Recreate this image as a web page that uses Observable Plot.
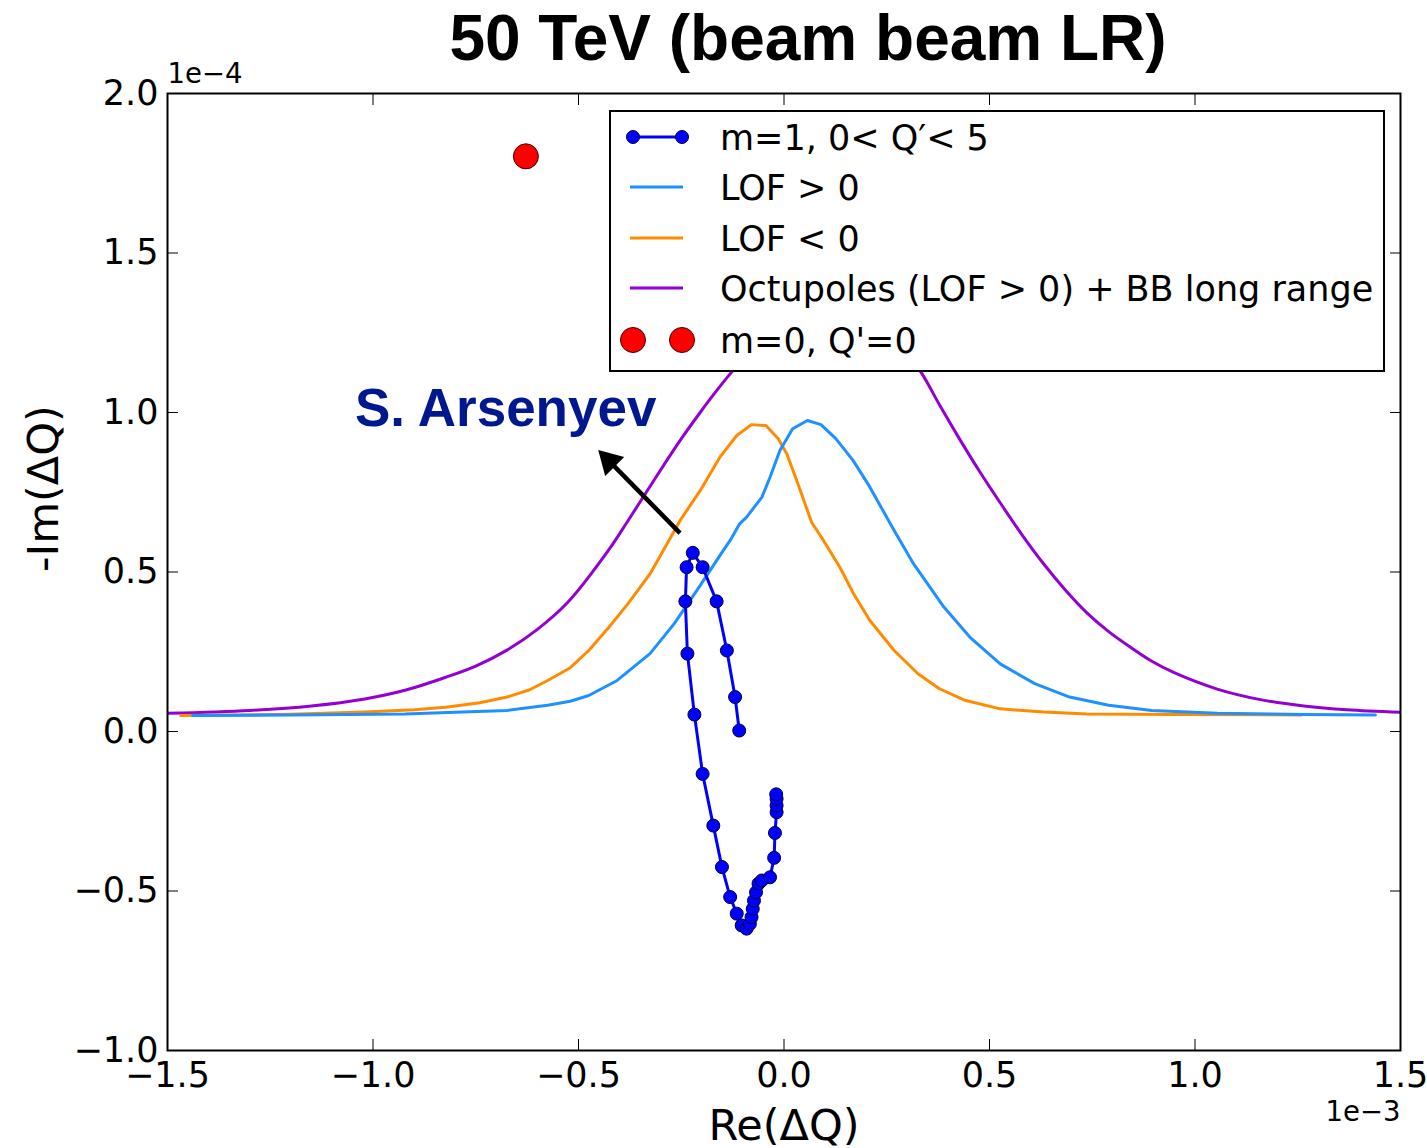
<!DOCTYPE html>
<html><head><meta charset="utf-8">
<script src="https://cdn.jsdelivr.net/npm/d3@7"></script>
<script src="https://cdn.jsdelivr.net/npm/@observablehq/plot@0.6"></script>
<style>
body{margin:0;background:#fff;}
#wrap{position:relative;width:1427px;height:1148px;overflow:hidden;background:#fff;}
#legend{position:absolute;left:609px;top:110px;width:776px;height:262px;box-sizing:border-box;border:2px solid #000;background:#fff;}
#legend svg{display:block;}
</style></head><body><div id="wrap"></div>
<script>
// Axis units: x in 1e-3, y in 1e-4
const titleText = "50 TeV (beam beam LR)";
const xTicks = [-1.5, -1.0, -0.5, 0.0, 0.5, 1.0, 1.5];
const yTicks = [-1.0, -0.5, 0.0, 0.5, 1.0, 1.5, 2.0];

// Octupoles (LOF > 0) + BB long range
const octX = [-1.5,-1.3,-1.15,-1.02,-0.92,-0.823,-0.75,-0.674,-0.6,-0.526,-0.426,-0.38,-0.33,-0.28,-0.253,-0.204,-0.172,-0.131,-0.09,-0.04,0.02,0.08,0.14,0.2,0.25,0.295,0.336,0.38,0.428,0.476,0.526,0.58,0.632,0.685,0.737,0.79,0.843,0.895,0.948,1.054,1.159,1.265,1.37,1.5];
const octY = [0.057,0.066,0.08,0.102,0.13,0.17,0.205,0.255,0.32,0.405,0.57,0.66,0.76,0.86,0.912,1.0,1.055,1.121,1.18,1.24,1.285,1.31,1.315,1.295,1.255,1.195,1.121,1.02,0.915,0.815,0.717,0.615,0.525,0.443,0.372,0.313,0.264,0.22,0.185,0.133,0.10,0.08,0.068,0.060];

// LOF < 0
const lofNegX = [-1.468,-1.2,-1.022,-0.9,-0.823,-0.74,-0.674,-0.62,-0.575,-0.52,-0.475,-0.426,-0.38,-0.326,-0.253,-0.204,-0.156,-0.115,-0.079,-0.044,-0.014,0.007,0.031,0.067,0.096,0.136,0.17,0.209,0.268,0.326,0.378,0.442,0.526,0.632,0.737,0.948,1.259];
const lofNegY = [0.050,0.054,0.061,0.068,0.076,0.09,0.108,0.13,0.160,0.2,0.254,0.327,0.40,0.494,0.661,0.755,0.860,0.928,0.962,0.959,0.918,0.870,0.787,0.656,0.599,0.515,0.43,0.348,0.254,0.181,0.134,0.097,0.071,0.061,0.055,0.053,0.052];

// LOF > 0
const lofPosX = [-1.439,-1.2,-0.922,-0.8,-0.674,-0.575,-0.52,-0.475,-0.406,-0.326,-0.267,-0.207,-0.148,-0.131,-0.108,-0.091,-0.054,-0.034,-0.010,0.021,0.057,0.090,0.126,0.168,0.209,0.268,0.315,0.389,0.452,0.526,0.610,0.695,0.790,0.895,1.054,1.265,1.439];
const lofPosY = [0.050,0.052,0.055,0.06,0.066,0.082,0.095,0.113,0.160,0.244,0.338,0.452,0.567,0.599,0.651,0.672,0.734,0.797,0.881,0.949,0.975,0.962,0.918,0.850,0.766,0.63,0.526,0.390,0.296,0.212,0.150,0.108,0.082,0.066,0.057,0.053,0.052];

// m=1, 0 < Q' < 5
const m1X = [-0.109,-0.119,-0.139,-0.164,-0.198,-0.222,-0.237,-0.240,-0.235,-0.218,-0.198,-0.172,-0.151,-0.131,-0.115,-0.103,-0.091,-0.083,-0.079,-0.076,-0.073,-0.068,-0.062,-0.054,-0.034,-0.024,-0.022,-0.018,-0.018,-0.018,-0.019];
const m1Y = [0.003,0.108,0.254,0.408,0.515,0.560,0.515,0.408,0.244,0.053,-0.133,-0.295,-0.425,-0.519,-0.571,-0.608,-0.618,-0.603,-0.582,-0.556,-0.530,-0.504,-0.477,-0.467,-0.457,-0.396,-0.318,-0.253,-0.232,-0.211,-0.197];

// m=0, Q'=0
const m0X = [-0.628];
const m0Y = [1.803];

// annotation
const annotText = ["S. Arsenyev"];
const annotX = [-1.044];
const annotY = [1.010];
const arrowFrom = [-0.253, 0.622];
const arrowTo = [-0.452, 0.883];

const legendLabels = ["m=1, 0< Q\u2032< 5", "LOF > 0", "LOF < 0", "Octupoles (LOF > 0) + BB long range", "m=0, Q'=0"];
const colors = {oct: "#9400d3", neg: "#ff8c00", pos: "#1e90ff", m1: "#0000ff", m0: "#ff0000"};

const zip = (xs, ys) => xs.map((x, i) => ({x, y: ys[i]}));
const oct = zip(octX, octY), neg = zip(lofNegX, lofNegY), pos = zip(lofPosX, lofPosY);
const m1 = zip(m1X, m1Y), m0 = zip(m0X, m0Y);
const annot = annotText.map((t, i) => ({t, x: annotX[i], y: annotY[i]}));
// arrow: shaft + filled triangular head, positioned along the arrow segment
const lerp = (f) => ({x: arrowTo[0] + f * (arrowFrom[0] - arrowTo[0]), y: arrowTo[1] + f * (arrowFrom[1] - arrowTo[1])});
const shaftEnd = lerp(0.15);
const shaft = [{x1: arrowFrom[0], y1: arrowFrom[1], x2: shaftEnd.x, y2: shaftEnd.y}];
const headPos = [lerp(0.134)];
const fmt = d3.format(".1f");
const FONT = "'DejaVu Sans', sans-serif";
const BOLD = "'Liberation Sans', Arial, Helvetica, sans-serif";

const chart = Plot.plot({
  width: 1427, height: 1148,
  marginLeft: 167, marginRight: 27, marginTop: 93, marginBottom: 98,
  x: {domain: [-1.5, 1.5]},
  y: {domain: [-1, 2]},
  style: {fontFamily: FONT, fontSize: "35px", background: "white", color: "black", overflow: "visible"},
  marks: [
    Plot.line(oct, {x: "x", y: "y", stroke: colors.oct, strokeWidth: 3, curve: "catmull-rom", clip: true}),
    Plot.line(neg, {x: "x", y: "y", stroke: colors.neg, strokeWidth: 3, clip: true}),
    Plot.line(pos, {x: "x", y: "y", stroke: colors.pos, strokeWidth: 3, clip: true}),
    Plot.line(m1, {x: "x", y: "y", stroke: colors.m1, strokeWidth: 3}),
    Plot.dot(m1, {x: "x", y: "y", r: 6.5, fill: colors.m1, stroke: "#000040", strokeWidth: 1}),
    Plot.dot(m0, {x: "x", y: "y", r: 12.5, fill: colors.m0, stroke: "#400000", strokeWidth: 1}),
    Plot.link(shaft, {x1: "x1", y1: "y1", x2: "x2", y2: "y2", stroke: "black", strokeWidth: 4.5}),
    Plot.dot(headPos, {x: "x", y: "y", symbol: "triangle", r: 10, rotate: -45, fill: "black", stroke: "none"}),
    Plot.text(annot, {x: "x", y: "y", text: "t", textAnchor: "start", lineAnchor: "middle", fill: "#00188f", fontSize: 53, fontWeight: "bold", fontFamily: BOLD}),
    Plot.axisX({anchor: "bottom", ticks: xTicks, tickSize: -11, tickPadding: 23, tickFormat: fmt, fontSize: 35, label: null}),
    Plot.axisX({anchor: "top", ticks: xTicks, tickSize: -11, tickFormat: () => "", label: null}),
    Plot.axisY({anchor: "left", ticks: yTicks, tickSize: -11, tickPadding: 20, tickFormat: fmt, fontSize: 35, label: null}),
    Plot.axisY({anchor: "right", ticks: yTicks, tickSize: -11, tickFormat: () => "", label: null}),
    Plot.frame({stroke: "black", strokeWidth: 2}),
    Plot.text(["Re(\u0394Q)"], {text: d => d, frameAnchor: "bottom", dy: 76, lineAnchor: "middle", fontSize: 43}),
    Plot.text(["-Im(\u0394Q)"], {text: d => d, frameAnchor: "left", dx: -123, rotate: -90, lineAnchor: "middle", fontSize: 43}),
    Plot.text(["1e\u22123"], {text: d => d, frameAnchor: "bottom-right", dy: 62, textAnchor: "end", lineAnchor: "middle", fontSize: 27.5}),
    Plot.text(["1e\u22124"], {text: d => d, frameAnchor: "top-left", dy: -19, textAnchor: "start", lineAnchor: "middle", fontSize: 27.5}),
    Plot.text([titleText], {text: d => d, frameAnchor: "top", dx: 24, dy: -53.5, lineAnchor: "middle", fontSize: 64, fontWeight: "bold", fontFamily: BOLD})
  ]
});
const wrap = document.getElementById("wrap");
wrap.appendChild(chart);

// Legend (HTML overlay with inline SVG swatches)
const leg = document.createElement("div");
leg.id = "legend";
wrap.appendChild(leg);
const ls = d3.select(leg).append("svg").attr("width", 772).attr("height", 258);
const rows = [25, 75, 126, 176, 228];
const sw = [
  g => { g.append("line").attr("x1", 22).attr("x2", 71).attr("stroke", colors.m1).attr("stroke-width", 3);
         [22, 71].forEach(cx => g.append("circle").attr("cx", cx).attr("r", 6.5).attr("fill", colors.m1).attr("stroke", "#000040")); },
  g => g.append("line").attr("x1", 19).attr("x2", 72).attr("stroke", colors.pos).attr("stroke-width", 3),
  g => g.append("line").attr("x1", 19).attr("x2", 72).attr("stroke", colors.neg).attr("stroke-width", 3),
  g => g.append("line").attr("x1", 19).attr("x2", 72).attr("stroke", colors.oct).attr("stroke-width", 3),
  g => [22, 71].forEach(cx => g.append("circle").attr("cx", cx).attr("r", 12.5).attr("fill", colors.m0).attr("stroke", "#400000"))
];
legendLabels.forEach((lab, i) => {
  const g = ls.append("g").attr("transform", `translate(0,${rows[i]})`);
  sw[i](g);
  g.append("text").attr("x", 109).attr("y", 12.5).attr("font-family", FONT).attr("font-size", 35).attr("fill", "black").text(lab);
});
</script></body></html>
